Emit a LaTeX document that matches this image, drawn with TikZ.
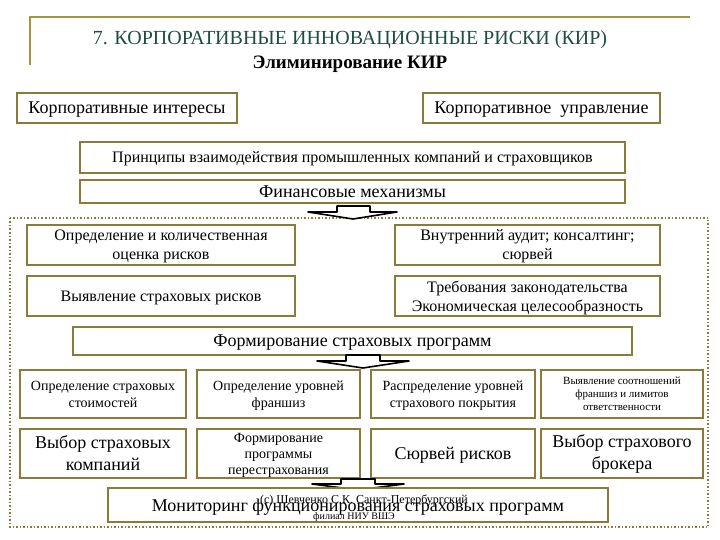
\documentclass[tikz,border=0pt]{standalone}
\usepackage{fontspec}
\setmainfont{Liberation Serif}
\definecolor{KIRGold}{HTML}{8C7A3A}
\definecolor{KIRLine}{HTML}{A8943E}
\definecolor{KIRGreen}{HTML}{1F4E3D}
\tikzset{
  kbox/.style={draw=KIRGold,line width=2.4pt,fill=white,inner sep=1pt,align=center,
    text depth=0pt,font=\fontsize{16}{19}\selectfont},
  headbox/.style={kbox,font=\fontsize{18}{21}\selectfont},
  smallbox/.style={kbox,font=\fontsize{14}{17}\selectfont},
  bigbox/.style={kbox,text depth=,font=\fontsize{18}{22}\selectfont},
  flatarrow/.style={draw=black,line width=1.6pt,fill=white,line join=round}
}
\begin{document}
\begin{tikzpicture}[x=1pt,y=-1pt]
\path[use as bounding box] (0,0) rectangle (720,540);
% title frame
\draw[KIRLine,line width=1.5pt] (30,65) -- (30,17) -- (690,17);
\node[text=KIRGreen,font=\fontsize{20}{24}\selectfont] (title) at (350,40) {7. КОРПОРАТИВНЫЕ ИННОВАЦИОННЫЕ РИСКИ (КИР)};
\node[font=\fontsize{19}{22}\selectfont\bfseries] (subtitle) at (350,64) {Элиминирование КИР};
% upper boxes
\node[headbox,minimum width=220,minimum height=30] (interest) at (127,108) {Корпоративные интересы};
\node[headbox,minimum width=237,minimum height=30] (govern) at (541.5,108) {Корпоративное\ \ управление};
\node[kbox,minimum width=545,minimum height=31] (princ) at (352.5,157.5) {Принципы взаимодействия промышленных компаний и страховщиков};
\node[headbox,minimum width=545,minimum height=23] (finmech) at (352.5,191.5) {Финансовые механизмы};
% dotted frame
\draw[KIRGold,line width=1.5pt,dotted] (10,218) rectangle (708,527);
\draw[flatarrow] (337,206) -- (370,206) -- (370,212) -- (397,212) -- (353,219) -- (308,212) -- (337,212) -- cycle;
% analysis boxes
\node[kbox,minimum width=268,minimum height=40] (estim) at (161,245) {Определение и количественная\\оценка рисков};
\node[kbox,minimum width=265,minimum height=40] (audit) at (527.5,245) {Внутренний аудит; консалтинг;\\сюрвей};
\node[kbox,minimum width=268,minimum height=40] (reveal) at (161,296) {Выявление страховых рисков};
\node[kbox,minimum width=265,minimum height=40] (law) at (527.5,296) {Требования законодательства\\Экономическая целесообразность};
\node[headbox,minimum width=559,minimum height=28] (forming) at (352.5,341) {Формирование страховых программ};
\draw[flatarrow] (346,355) -- (380,355) -- (380,361) -- (409,361) -- (363,368) -- (317,361) -- (346,361) -- cycle;
% program boxes
\node[smallbox,minimum width=166,minimum height=48] (cost) at (103,394) {Определение страховых\\стоимостей};
\node[smallbox,minimum width=163,minimum height=48] (franch) at (278.5,394) {Определение уровней\\франшиз};
\node[smallbox,minimum width=164,minimum height=48] (cover) at (453,394) {Распределение уровней\\страхового покрытия};
\node[kbox,font=\fontsize{11}{13}\selectfont,minimum width=162,minimum height=48] (ratio) at (622,394) {Выявление соотношений\\франшиз и лимитов\\ответственности};
\node[bigbox,minimum width=166,minimum height=49] (insurer) at (103,453.5) {Выбор страховых\\компаний};
\node[kbox,font=\fontsize{14}{16}\selectfont,minimum width=163,minimum height=49] (reins) at (278.5,453.5) {Формирование\\программы\\перестрахования};
\node[bigbox,text depth=0pt,minimum width=164,minimum height=49] (survey) at (453,453.5) {Сюрвей рисков};
\node[bigbox,minimum width=162,minimum height=49] (broker) at (622,453.5) {Выбор страхового\\брокера};
\draw[flatarrow] (341,479) -- (375,479) -- (375,484) -- (404,484) -- (358,490) -- (312,484) -- (341,484) -- cycle;
% monitoring
\node[bigbox,text depth=0pt,minimum width=500,minimum height=34] (monitor) at (358,505) {Мониторинг функционирования страховых программ};
\node[font=\fontsize{12}{14}\selectfont] (copy) at (364,500) {(с) Шевченко С.К. Санкт-Петербургский};
\node[font=\fontsize{10}{12}\selectfont] (branch) at (354,517) {филиал НИУ ВШЭ};
\end{tikzpicture}
\end{document}
